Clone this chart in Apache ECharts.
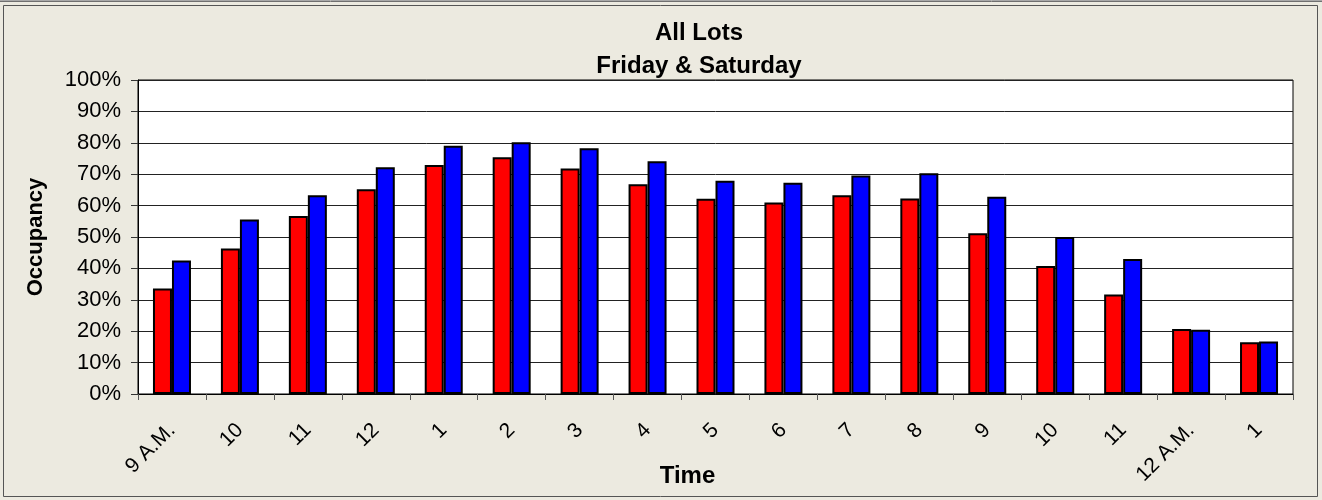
<!DOCTYPE html>
<html>
<head>
<meta charset="utf-8">
<script src="https://cdn.jsdelivr.net/npm/echarts@6/dist/echarts.min.js"></script>
<style>
html,body{margin:0;padding:0;background:#ECEAE0;}
#chart{width:1322px;height:500px;}
</style>
</head>
<body>
<div id="chart"></div>
<script>
const categories = ['9 A.M.', '10', '11', '12', '1', '2', '3', '4', '5', '6', '7', '8', '9', '10', '11', '12 A.M.', '1'];
const friday = [33.6, 46.3, 56.7, 65.2, 72.9, 75.4, 71.8, 66.8, 62.2, 61.0, 63.3, 62.3, 51.2, 40.8, 31.7, 20.7, 16.5];
const saturday = [42.5, 55.6, 63.3, 72.2, 79.1, 80.2, 78.3, 74.1, 67.9, 67.3, 69.6, 70.3, 62.8, 50.0, 43.0, 20.5, 16.7];
const titleText = 'All Lots\nFriday & Saturday';
const yName = 'Occupancy';
const xName = 'Time';

const FONT = '"Liberation Sans", Arial, sans-serif';
const chart = echarts.init(document.getElementById('chart'), null, {renderer: 'canvas'});
chart.setOption({
  backgroundColor: '#ECEAE0',
  animation: false,
  textStyle: {fontFamily: FONT},
  title: {
    text: titleText,
    left: 699, top: 17, padding: 0, textAlign: 'center',
    textStyle: {fontFamily: FONT, fontSize: 24, fontWeight: 'bold', color: '#000', lineHeight: 33}
  },
  graphic: [
    {type: 'line', shape: {x1: 0, y1: 0.5, x2: 1322, y2: 0.5}, style: {stroke: '#A8A8A8', lineWidth: 1}},
    {type: 'line', shape: {x1: 0, y1: 1.5, x2: 1322, y2: 1.5}, style: {stroke: '#707070', lineWidth: 1}},
    {type: 'rect', shape: {x: 3.5, y: 5.5, width: 1314, height: 491}, style: {fill: null, stroke: '#555', lineWidth: 1}}
  ],
  grid: {
    left: 138, right: 29, top: 80, bottom: 106,
    outerBoundsMode: 'none', containLabel: false,
    show: true, backgroundColor: '#fff', borderColor: '#000', borderWidth: 1
  },
  xAxis: {
    type: 'category',
    data: categories,
    name: xName,
    nameLocation: 'middle',
    nameGap: 70,
    nameMoveOverlap: false,
    nameTextStyle: {fontFamily: FONT, fontSize: 24, fontWeight: 'bold', color: '#000', padding: [0, 56, 0, 0]},
    axisLine: {lineStyle: {color: '#000', width: 1}},
    axisTick: {show: true, length: 6, lineStyle: {color: '#555'}},
    axisLabel: {rotate: 45, margin: 33, fontSize: 21, color: '#000', fontFamily: FONT, interval: 0},
    splitLine: {show: false}
  },
  yAxis: {
    type: 'value',
    min: 0, max: 100, interval: 10,
    name: yName,
    nameLocation: 'middle',
    nameGap: 91,
    nameRotate: 90,
    nameMoveOverlap: false,
    nameTextStyle: {fontFamily: FONT, fontSize: 22, fontWeight: 'bold', color: '#000'},
    axisLine: {show: true, lineStyle: {color: '#000', width: 1}},
    axisTick: {show: true, length: 7, lineStyle: {color: '#333'}},
    axisLabel: {formatter: '{value}%', fontSize: 22, color: '#000', fontFamily: FONT, margin: 17},
    splitLine: {show: true, lineStyle: {color: '#222', width: 1}}
  },
  series: [
    {
      name: 'Friday', type: 'bar', data: friday,
      barWidth: 19, barGap: '0%',
      itemStyle: {color: '#FF0000', borderColor: '#000', borderWidth: 2}
    },
    {
      name: 'Saturday', type: 'bar', data: saturday,
      barWidth: 19, barGap: '0%',
      itemStyle: {color: '#0000FF', borderColor: '#000', borderWidth: 2}
    }
  ]
});
</script>
</body>
</html>
